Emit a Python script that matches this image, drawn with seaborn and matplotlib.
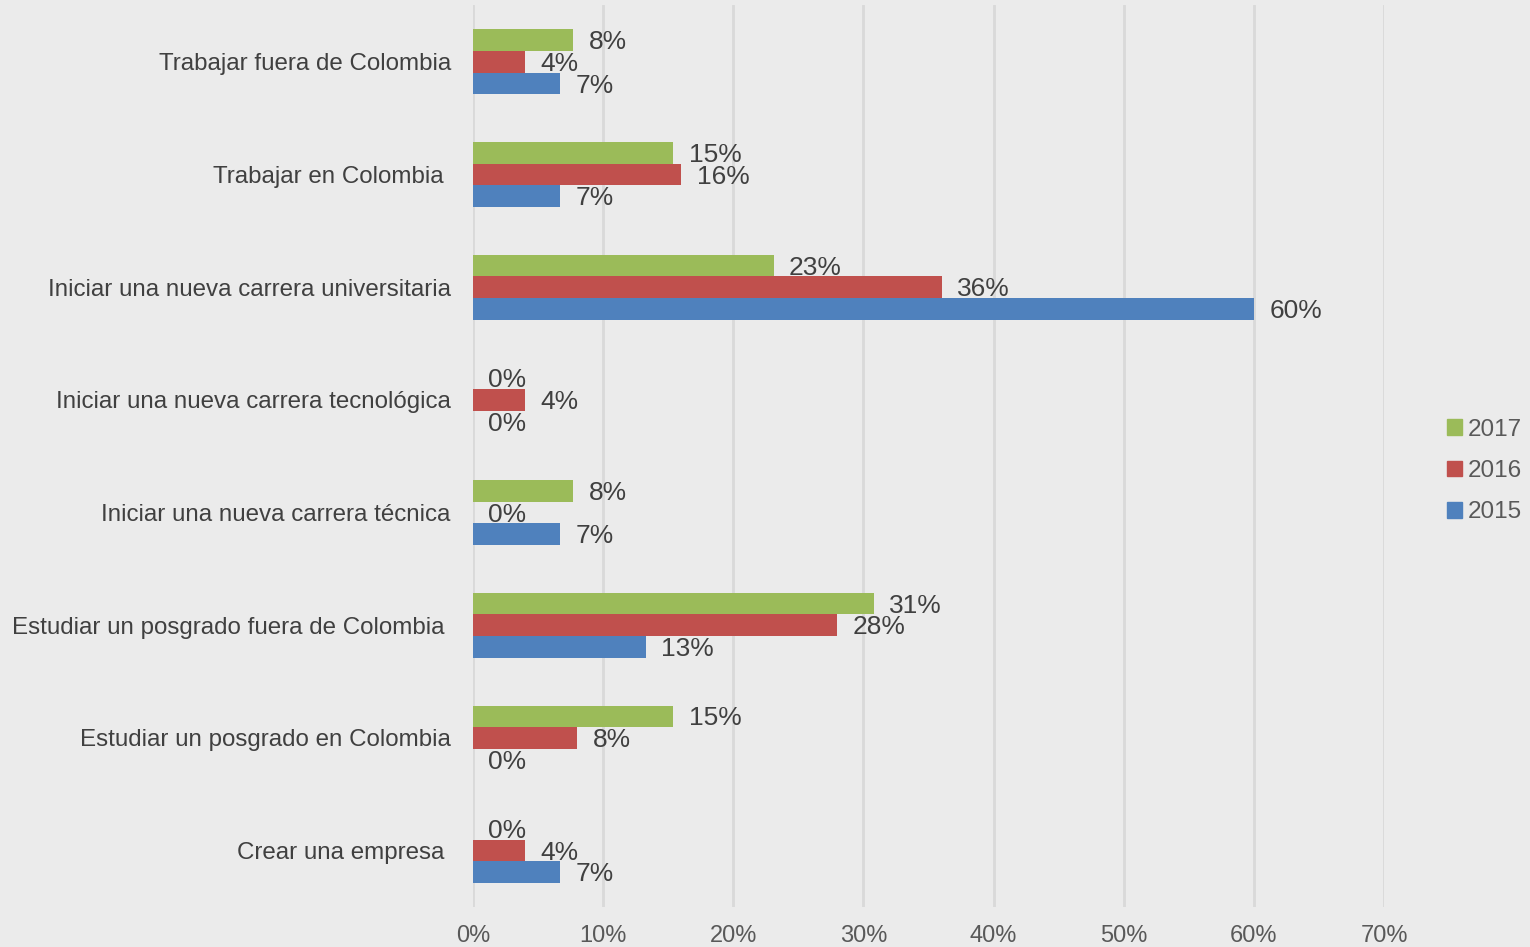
import matplotlib
matplotlib.use("Agg")
import matplotlib.pyplot as plt
import seaborn as sns
import pandas as pd
from matplotlib.ticker import FuncFormatter

categories = [
    "Trabajar fuera de Colombia",
    "Trabajar en Colombia ",
    "Iniciar una nueva carrera universitaria",
    "Iniciar una nueva carrera tecnológica",
    "Iniciar una nueva carrera técnica",
    "Estudiar un posgrado fuera de Colombia ",
    "Estudiar un posgrado en Colombia",
    "Crear una empresa ",
]
years = ["2017", "2016", "2015"]
v2017 = [0.077, 0.154, 0.231, 0.0, 0.077, 0.308, 0.154, 0.0]
v2016 = [0.04, 0.16, 0.36, 0.04, 0.0, 0.28, 0.08, 0.04]
v2015 = [0.067, 0.067, 0.60, 0.0, 0.067, 0.133, 0.0, 0.067]
colors = {"2017": "#9BBB59", "2016": "#C0504D", "2015": "#4F81BD"}
xticks = [0, 0.1, 0.2, 0.3, 0.4, 0.5, 0.6, 0.7]

rows = []
for yr, vals in zip(years, [v2017, v2016, v2015]):
    for c, v in zip(categories, vals):
        rows.append({"cat": c, "year": yr, "value": v})
df = pd.DataFrame(rows)

sns.set_theme(style="white")
plt.rcParams["font.family"] = ["Liberation Sans", "DejaVu Sans"]

bg = "#EBEBEB"
fig = plt.figure(figsize=(15.3, 9.47), dpi=100, facecolor=bg)
ax = fig.add_axes([473 / 1530, 1 - 907 / 947, (1384 - 473) / 1530, (907 - 5.5) / 947])
ax.set_facecolor(bg)

sns.barplot(data=df, y="cat", x="value", hue="year", hue_order=years,
            order=categories, palette=colors, orient="h", width=0.575,
            saturation=1, linewidth=0, ax=ax, zorder=3)

for cont, yr in zip(ax.containers, years):
    labs = [f"{round(b.get_width() * 100):.0f}%" for b in cont]
    anns = ax.bar_label(cont, labels=labs, padding=11, fontsize=19, color="#404040")
    for a in anns:
        a.xyann = (11, -1.5)

ax.set_xlim(0, 0.7)
ax.set_ylim(len(categories) - 0.5, -0.5)
ax.set_xticks(xticks)
ax.xaxis.set_major_formatter(FuncFormatter(lambda v, p: f"{v * 100:.0f}%"))
ax.grid(axis="x", color="#D9D9D9", linewidth=2, zorder=0)
ax.set_axisbelow(True)
ax.tick_params(axis="x", length=0, pad=13, labelsize=17, labelcolor="#595959")
ax.tick_params(axis="y", length=0, pad=16, labelsize=17.4, labelcolor="#404040")
ax.set_xlabel("")
ax.set_ylabel("")
for s in ax.spines.values():
    s.set_visible(False)

ax.legend_.remove()
handles = [plt.Rectangle((0, 0), 1, 1, color=colors[y]) for y in years]
leg = fig.legend(handles, years, loc="center left",
                 bbox_to_anchor=(1447 / 1530, 1 - 471 / 947), frameon=False,
                 fontsize=17.5, labelcolor="#595959", handlelength=0.6,
                 handleheight=0.6, handletextpad=0.25, labelspacing=0.8,
                 borderaxespad=0, borderpad=0)

fig.savefig("out.png", dpi=100, facecolor=bg)
